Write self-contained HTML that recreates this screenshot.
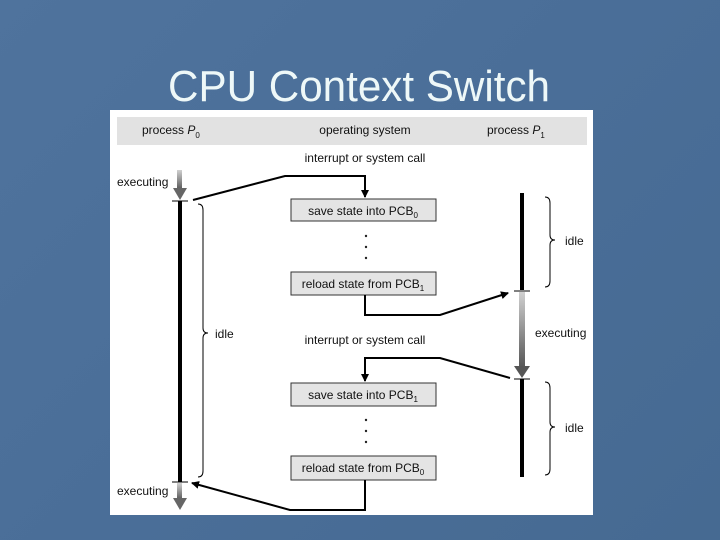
<!DOCTYPE html>
<html><head><meta charset="utf-8"><style>
html,body{margin:0;padding:0;}
body{width:720px;height:540px;overflow:hidden;background:linear-gradient(135deg,#4f739d 0%,#4a6e98 50%,#466a92 100%);}
</style></head><body>
<svg width="720" height="540" xmlns="http://www.w3.org/2000/svg" font-family="Liberation Sans, sans-serif" style="display:block">
<defs>
<linearGradient id="g" x1="0" y1="0" x2="0" y2="1"><stop offset="0" stop-color="#d0d0d0"/><stop offset="1" stop-color="#555"/></linearGradient>
<marker id="a" markerWidth="8" markerHeight="8" refX="7" refY="4" orient="auto" markerUnits="userSpaceOnUse"><path d="M0,0 L8,4 L0,8z" fill="#000"/></marker>
</defs>
<text x="359" y="101" font-size="44" fill="#eef8f8" text-anchor="middle" textLength="382" lengthAdjust="spacingAndGlyphs">CPU Context Switch</text>
<rect x="110" y="110" width="483" height="405" fill="#fff"/>
<rect x="117" y="117" width="470" height="28" fill="#e2e2e2"/>
<g font-size="12" fill="#111">
<text x="142" y="134">process <tspan font-style="italic">P</tspan><tspan font-size="8" dy="4">0</tspan></text>
<text x="365" y="134" text-anchor="middle">operating system</text>
<text x="487" y="134">process <tspan font-style="italic">P</tspan><tspan font-size="8" dy="4">1</tspan></text>
<text x="365" y="162" text-anchor="middle">interrupt or system call</text>
<text x="365" y="344" text-anchor="middle">interrupt or system call</text>
<text x="117" y="186">executing</text>
<text x="117" y="495">executing</text>
<text x="535" y="337">executing</text>
<text x="215" y="338">idle</text>
<text x="565" y="245">idle</text>
<text x="565" y="432">idle</text>
</g>
<g fill="#e4e4e4" stroke="#333" stroke-width="1">
<rect x="291" y="199" width="145" height="22"/>
<rect x="291" y="272" width="145" height="23"/>
<rect x="291" y="383" width="145" height="23"/>
<rect x="291" y="456" width="145" height="24"/>
</g>
<g font-size="12" fill="#111" text-anchor="middle">
<text x="363" y="215">save state into PCB<tspan font-size="8" dy="3">0</tspan></text>
<text x="363" y="288">reload state from PCB<tspan font-size="8" dy="3">1</tspan></text>
<text x="363" y="399">save state into PCB<tspan font-size="8" dy="3">1</tspan></text>
<text x="363" y="472">reload state from PCB<tspan font-size="8" dy="3">0</tspan></text>
</g>
<g fill="#222">
<circle cx="366" cy="236" r="1.2"/><circle cx="366" cy="247" r="1.2"/><circle cx="366" cy="258" r="1.2"/>
<circle cx="366" cy="420" r="1.2"/><circle cx="366" cy="431" r="1.2"/><circle cx="366" cy="442" r="1.2"/>
</g>
<rect x="177" y="170" width="5" height="20" fill="url(#g)"/><path d="M173,188 L187,188 L180,200z" fill="#666"/>
<line x1="172" y1="201" x2="188" y2="201" stroke="#000"/>
<rect x="178" y="201" width="4" height="281" fill="#000"/>
<line x1="172" y1="482" x2="188" y2="482" stroke="#000"/>
<rect x="177" y="483" width="5" height="17" fill="url(#g)"/><path d="M173,498 L187,498 L180,510z" fill="#666"/>
<rect x="520" y="193" width="4" height="97" fill="#000"/>
<line x1="514" y1="291" x2="530" y2="291" stroke="#000"/>
<rect x="519" y="292" width="6" height="76" fill="url(#g)"/><path d="M514,366 L530,366 L522,378z" fill="#555"/>
<line x1="514" y1="379" x2="530" y2="379" stroke="#000"/>
<rect x="520" y="379" width="4" height="98" fill="#000"/>
<g fill="none" stroke="#000" stroke-width="1">
<path d="M198,204 Q203,204 203,210 L203,328 Q203,333 208,333 Q203,333 203,338 L203,471 Q203,477 198,477"/>
<path d="M545,197 Q550,197 550,203 L550,235 Q550,240 555,240 Q550,240 550,245 L550,281 Q550,287 545,287"/>
<path d="M545,382 Q550,382 550,388 L550,422 Q550,427 555,427 Q550,427 550,432 L550,469 Q550,475 545,475"/>
</g>
<g fill="none" stroke="#000" stroke-width="2">
<path d="M193,200 L285,176 L365,176 L365,197" marker-end="url(#a)"/>
<path d="M365,295 L365,315 L440,315 L508,293" marker-end="url(#a)"/>
<path d="M510,378 L440,358 L365,358 L365,381" marker-end="url(#a)"/>
<path d="M365,480 L365,510 L290,510 L192,483" marker-end="url(#a)"/>
</g>
</svg>
</body></html>
